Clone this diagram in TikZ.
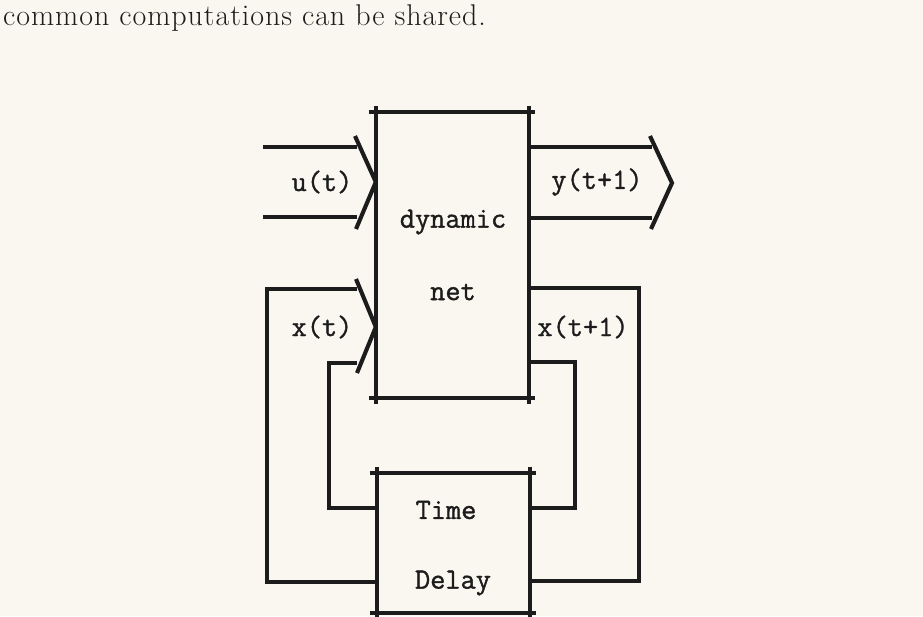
\documentclass[tikz,border=0pt]{standalone}
\usepackage{fontspec}
\newfontfamily\labelfont[FakeBold=1.2]{Latin Modern Mono}
\newfontfamily\capfont[LetterSpace=3.2]{Latin Modern Roman}
\usetikzlibrary{calc}
\definecolor{paper}{HTML}{FAF7F0}
\definecolor{ink}{HTML}{1C1C1C}
\begin{document}
\begin{tikzpicture}[x=1pt,y=-1pt,
  wire/.style={draw=ink,line width=4.1pt,line join=miter},
  lbl/.style={font=\fontsize{29.5}{30}\selectfont\labelfont,text=ink,inner sep=0pt},
  blockbox/.style={inner sep=0pt}]
\fill[paper] (0,0) rectangle (923,616);
\useasboundingbox (0,0) rectangle (923,616);
% caption
\node[anchor=base west,inner sep=0pt,text=ink,font=\fontsize{30}{32}\capfont] (cap) at (3,25) {common computations can be shared.};
% blocks
\node[blockbox,minimum width=153pt,minimum height=286pt] (dyn) at (452.5,255) {};
\node[blockbox,minimum width=153pt,minimum height=140pt] (delay) at (453.5,543) {};
\foreach \b in {dyn,delay}{
  \draw[wire] ([xshift=-7pt]\b.north west) -- ([xshift=6pt]\b.north east);
  \draw[wire] ([xshift=-7pt]\b.south west) -- ([xshift=6pt]\b.south east);
  \draw[wire] ([yshift=6pt]\b.north west) -- ([yshift=-6pt]\b.south west);
  \draw[wire] ([yshift=6pt]\b.north east) -- ([yshift=-6pt]\b.south east);
}
% texts inside blocks
\node[lbl] (tdyn) at (453,222) {dynamic};
\node[lbl] (tnet) at (453,292) {net};
\node[lbl] (ttime) at (446,510) {Time};
\node[lbl] (tdelay) at (453,583) {Delay};
% u(t) input
\coordinate (uin1) at (263,147);
\coordinate (uin2) at (263,217);
\coordinate (utip) at (dyn.west |- 0,182);
\draw[wire] (uin1) -- (357,147);
\draw[wire] (uin2) -- (357,217);
\draw[wire] (355,136) -- (utip) -- (356,229);
\node[lbl] (lu) at (322,182) {u(t)};
% y(t+1) output
\coordinate (ytip) at (672,183);
\draw[wire] (dyn.east |- 0,147) -- (652,147);
\draw[wire] (dyn.east |- 0,218) -- (652,218);
\draw[wire] (650,136) -- (ytip) -- (651,229);
\node[lbl] (ly) at (597,182) {y(t+1)};
% x(t) feedback into net
\coordinate (xtip) at (dyn.west |- 0,327);
\draw[wire] (357,289) -- (267,289) -- (267,582) -- (delay.west |- 0,582);
\draw[wire] (357,363) -- (329,363) -- (329,508) -- (delay.west |- 0,508);
\draw[wire] (356,279) -- (xtip) -- (357,373);
\node[lbl] (lx) at (322,327) {x(t)};
% x(t+1) output into delay
\draw[wire] (dyn.east |- 0,288) -- (639,288) -- (639,581) -- (delay.east |- 0,581);
\draw[wire] (dyn.east |- 0,362) -- (575,362) -- (575,508) -- (delay.east |- 0,508);
\node[lbl] (lx1) at (583,327) {x(t+1)};
\end{tikzpicture}
\end{document}
